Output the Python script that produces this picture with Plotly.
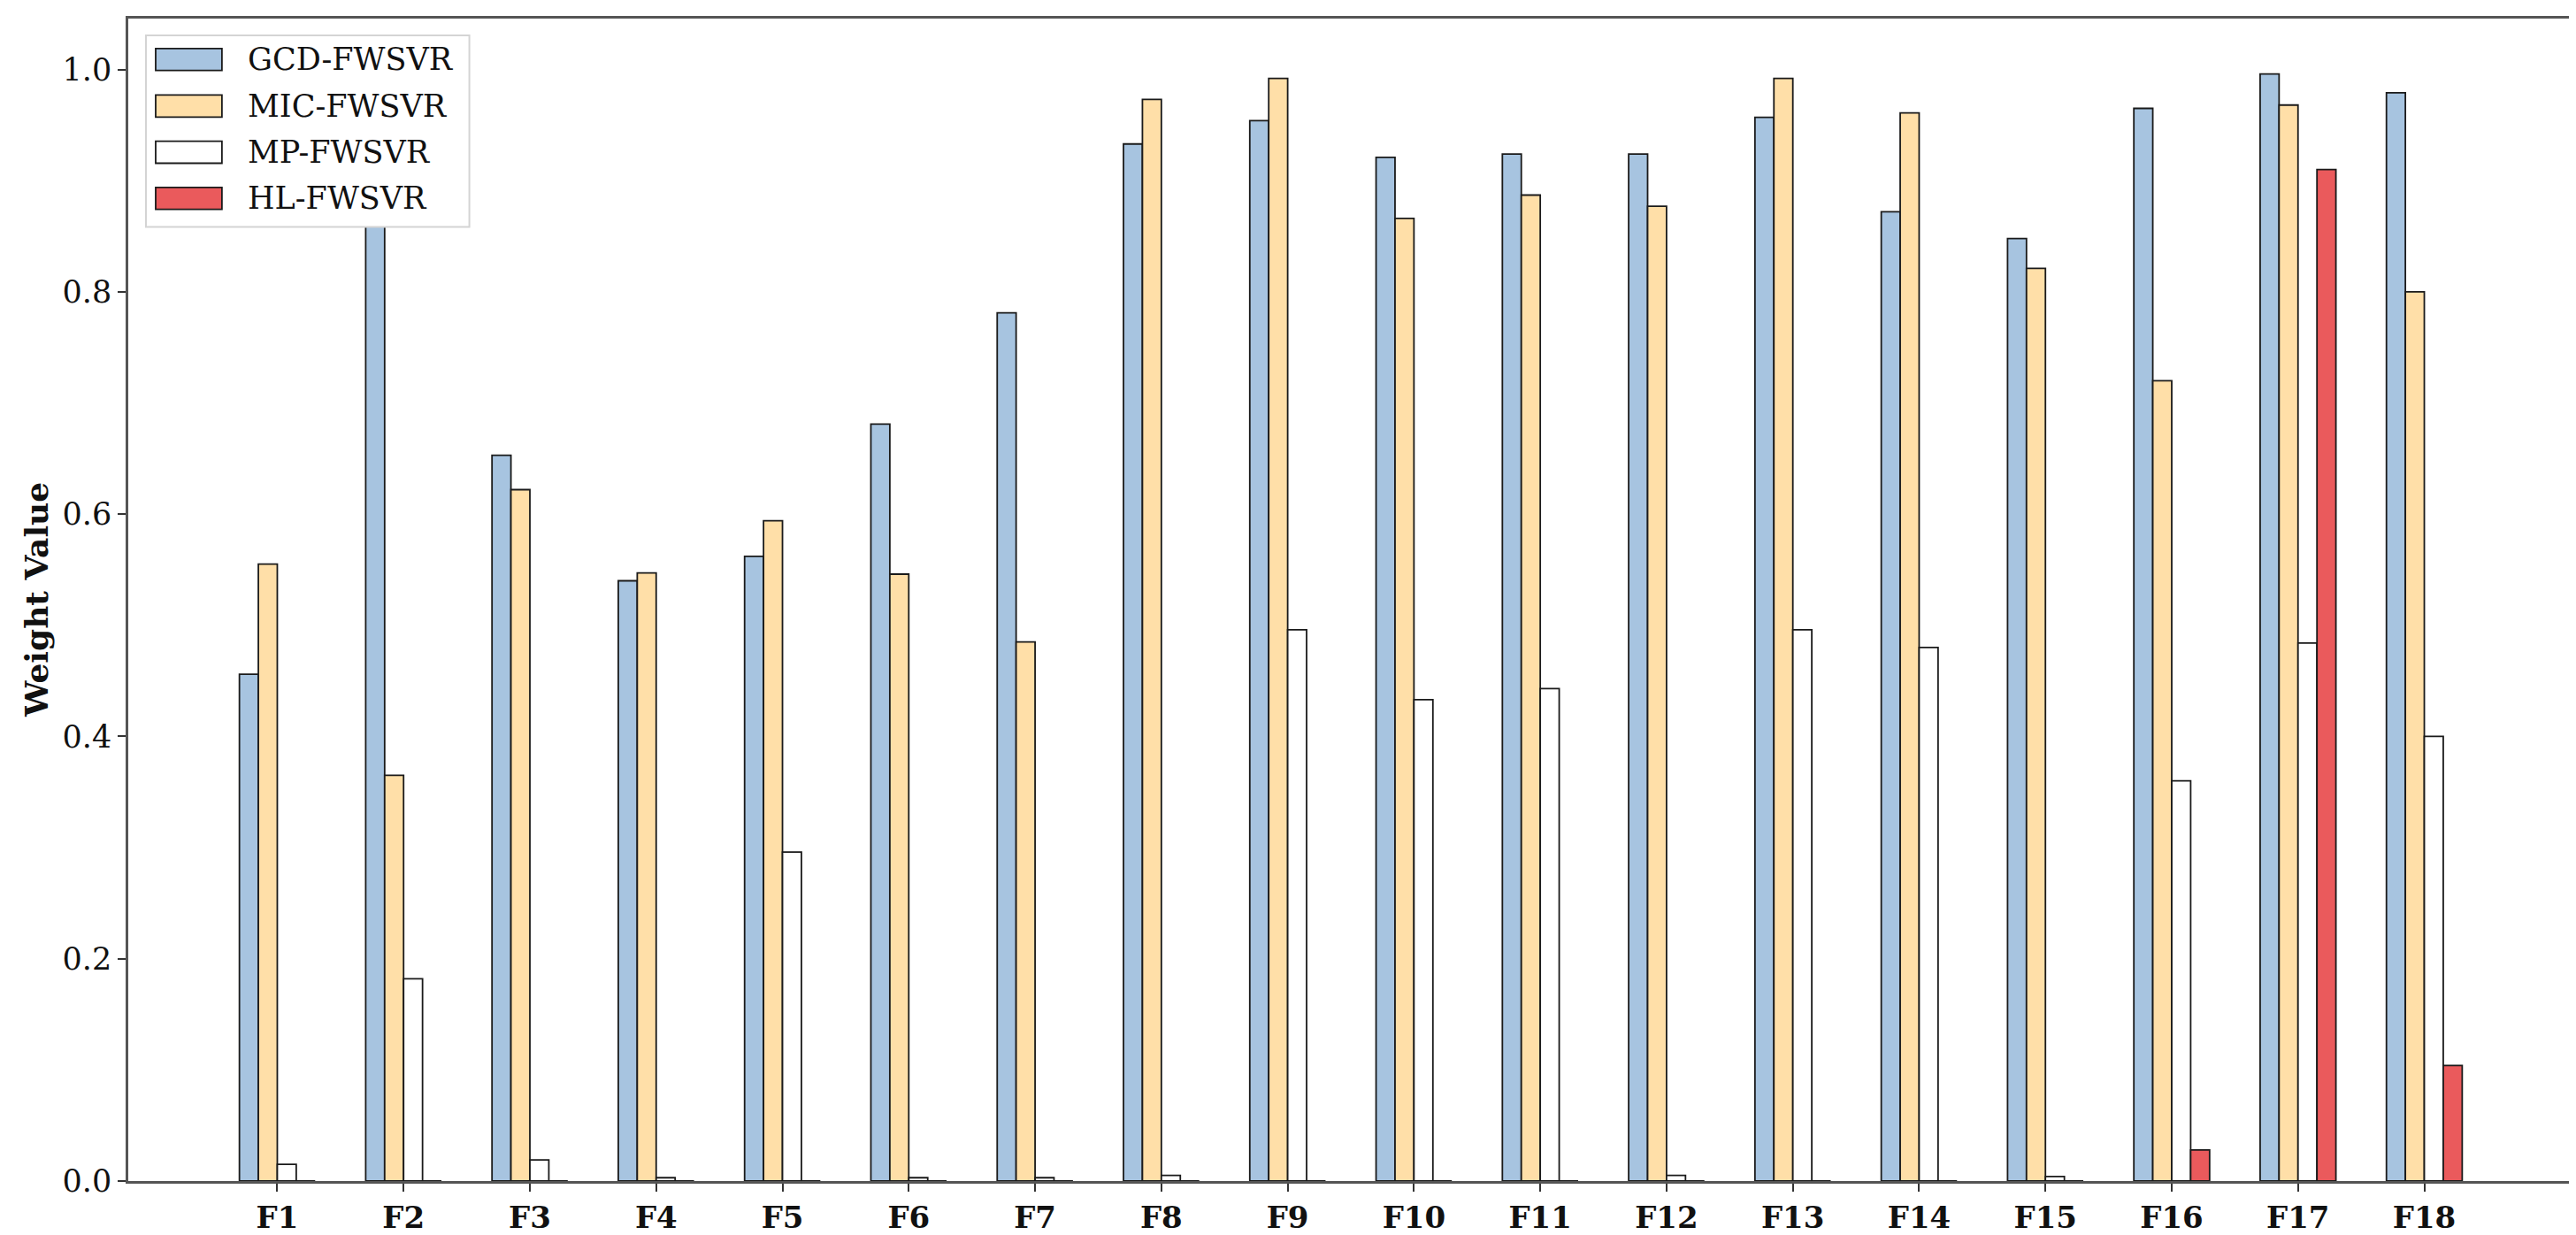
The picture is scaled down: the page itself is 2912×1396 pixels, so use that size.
import plotly.graph_objects as go

categories = [f"F{i}" for i in range(1, 19)]
gcd = [0.456, 0.96, 0.653, 0.540, 0.562, 0.681, 0.781, 0.933, 0.954, 0.921, 0.924, 0.924, 0.957, 0.872, 0.848, 0.965, 0.996, 0.979]
mic = [0.555, 0.365, 0.622, 0.547, 0.594, 0.546, 0.485, 0.973, 0.992, 0.866, 0.887, 0.877, 0.992, 0.961, 0.821, 0.720, 0.968, 0.800]
mp = [0.015, 0.182, 0.019, 0.003, 0.296, 0.003, 0.003, 0.005, 0.496, 0.433, 0.443, 0.005, 0.496, 0.480, 0.004, 0.360, 0.484, 0.400]
hl = [0, 0, 0, 0, 0, 0, 0, 0, 0, 0, 0, 0, 0, 0, 0, 0.028, 0.910, 0.104]

series_names = ["GCD-FWSVR", "MIC-FWSVR", "MP-FWSVR", "HL-FWSVR"]
series_vals = [gcd, mic, mp, hl]
colors = ["#A7C4E0", "#FFDFA8", "#FFFFFF", "#EA5A5C"]
y_ticks = [0.0, 0.2, 0.4, 0.6, 0.8, 1.0]

W, H = 2912, 1396
L, R, T, B = 137, 2904, 13, 1335  # plot area in pixels

fig = go.Figure()
for name, vals, col in zip(series_names, series_vals, colors):
    fig.add_trace(go.Bar(
        x=categories, y=vals, name=name,
        marker=dict(color=col, line=dict(color="#1a1a1a", width=1.8)),
        showlegend=False,
    ))

ymax = max(max(v) for v in series_vals) * 1.05

fig.update_layout(
    width=W, height=H,
    margin=dict(l=L, r=W - R, t=T, b=H - B, pad=0),
    paper_bgcolor="white", plot_bgcolor="white",
    barmode="group", bargap=0.4, bargroupgap=0,
    font=dict(family="DejaVu Serif", size=34, color="#111"),
)
fig.update_xaxes(
    range=[-1.18, 18.18],
    showline=True, mirror=True, linecolor="#555", linewidth=2.5,
    ticks="outside", ticklen=9, tickwidth=1.5, tickcolor="#333",
    tickfont=dict(family="DejaVu Serif", size=34, color="#111", weight="bold"),
    showgrid=False, zeroline=False,
)
fig.update_yaxes(
    range=[0, ymax],
    tickvals=y_ticks, ticktext=[f"{v:.1f}" for v in y_ticks],
    showline=True, mirror=True, linecolor="#555", linewidth=2.5,
    ticks="outside", ticklen=9, tickwidth=1.5, tickcolor="#333",
    tickfont=dict(family="DejaVu Serif", size=35, color="#111"),
    showgrid=False, zeroline=False,
)

# y-axis title
fig.add_annotation(
    text="<b>Weight Value</b>", textangle=-90,
    xref="paper", yref="paper", x=(33 - L) / (R - L), y=0.5,
    xanchor="center", yanchor="middle", showarrow=False,
    font=dict(family="DejaVu Serif", size=36, color="#111"),
)

# custom legend (matplotlib-style large handles)
def px_x(p):
    return (p - L) / (R - L)

def px_y(p):
    return (B - p) / (B - T)

fig.add_shape(type="rect", xref="paper", yref="paper",
              x0=px_x(157), x1=px_x(523), y0=px_y(250), y1=px_y(32),
              fillcolor="white", line=dict(color="#d4d4d4", width=2), layer="above")
row_centers = [59.5, 112.5, 165, 217.5]
for name, col, yc in zip(series_names, colors, row_centers):
    fig.add_shape(type="rect", xref="paper", yref="paper",
                  x0=px_x(168), x1=px_x(243), y0=px_y(yc + 12.5), y1=px_y(yc - 12.5),
                  fillcolor=col, line=dict(color="#1a1a1a", width=1.8), layer="above")
    fig.add_annotation(text=name, xref="paper", yref="paper",
                       x=px_x(270), y=px_y(yc), xanchor="left", yanchor="middle",
                       showarrow=False, font=dict(family="DejaVu Serif", size=35, color="#111"))

fig.write_html("out.html")
